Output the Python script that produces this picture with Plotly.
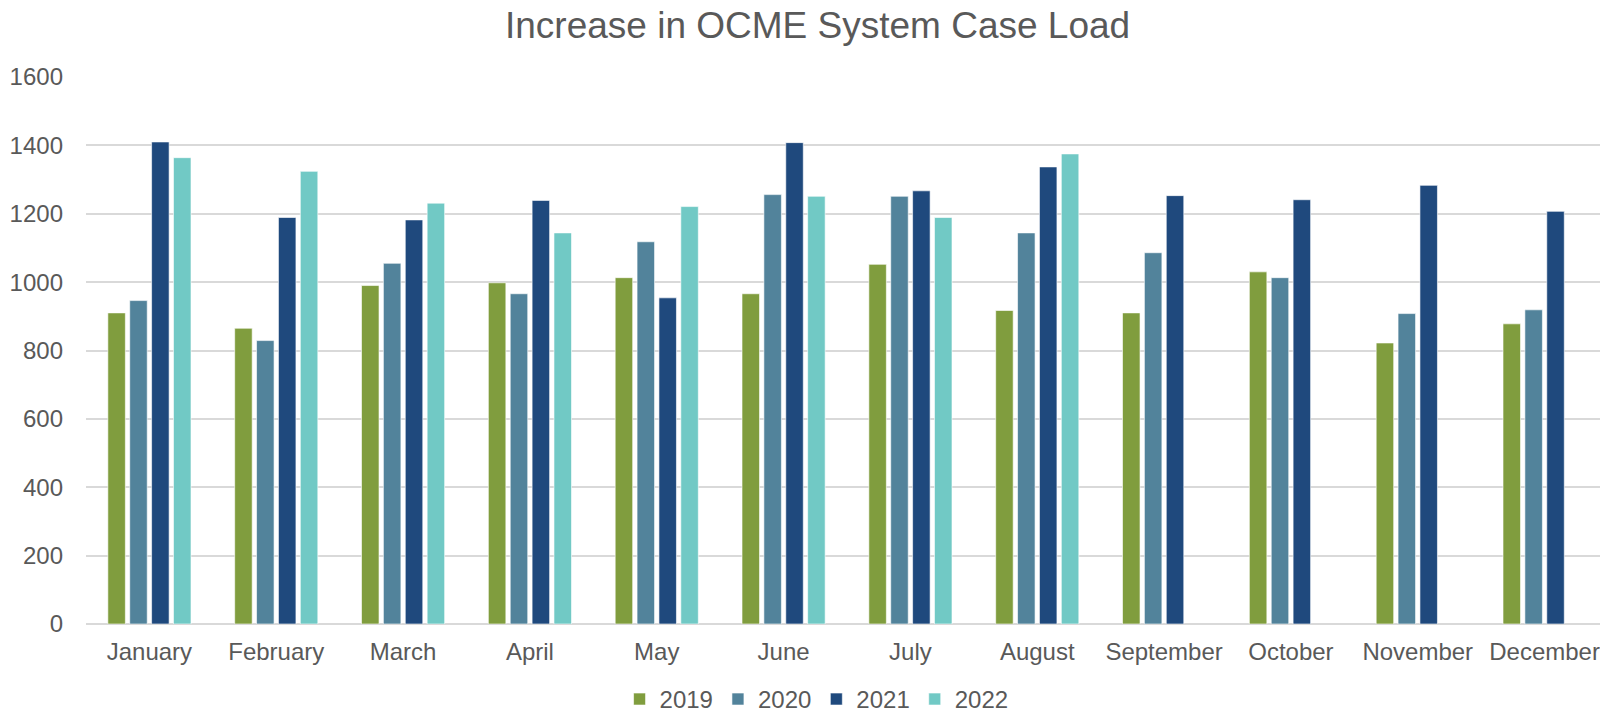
import plotly.graph_objects as go

months = ["January", "February", "March", "April", "May", "June", "July",
          "August", "September", "October", "November", "December"]
y2019 = [910, 865, 990, 998, 1013, 966, 1052, 917, 910, 1030, 822, 878]
y2020 = [946, 829, 1055, 966, 1118, 1256, 1251, 1144, 1086, 1013, 908, 919]
y2021 = [1410, 1189, 1182, 1239, 954, 1408, 1267, 1337, 1253, 1241, 1283, 1207]
y2022 = [1364, 1324, 1231, 1144, 1221, 1251, 1189, 1375, None, None, None, None]

series = [("2019", y2019, "#809D3E"), ("2020", y2020, "#52839B"),
          ("2021", y2021, "#1F497D"), ("2022", y2022, "#71C9C5")]

fig = go.Figure()
for name, vals, col in series:
    fig.add_trace(go.Bar(x=months, y=vals, name=name,
                         marker=dict(color=col, line=dict(color="rgba(255,255,255,0.6)", width=1))))

font_color = "#595959"
fig.update_layout(
    width=1600, height=707,
    paper_bgcolor="white", plot_bgcolor="white",
    font=dict(family="Liberation Sans, Arial, sans-serif", color=font_color, size=24),
    title=dict(text="Increase in OCME System Case Load", x=0.506, xanchor="center",
               y=1 - 17 / 707, yanchor="middle", font=dict(size=37, color=font_color)),
    margin=dict(l=78, r=0, t=69, b=91, autoexpand=False),
    barmode="group", bargap=0.31, bargroupgap=0.2,
    legend=dict(orientation="h", x=0.48, xanchor="center", yref="container",
                y=0.022, yanchor="middle",
                font=dict(size=24, color=font_color), traceorder="normal",
                itemwidth=30),
    showlegend=True,
)
fig.update_yaxes(range=[0, 1600], dtick=200, showgrid=True, gridcolor="#D9D9D9",
                 gridwidth=1.5, zeroline=True, zerolinecolor="#D9D9D9", zerolinewidth=1.5,
                 ticks="", ticklabelstandoff=22, tickfont=dict(size=24, color=font_color))
fig.update_xaxes(showline=False, ticks="", tickfont=dict(size=24, color=font_color),
                 ticklabelstandoff=11)

fig.write_html("out.html")
